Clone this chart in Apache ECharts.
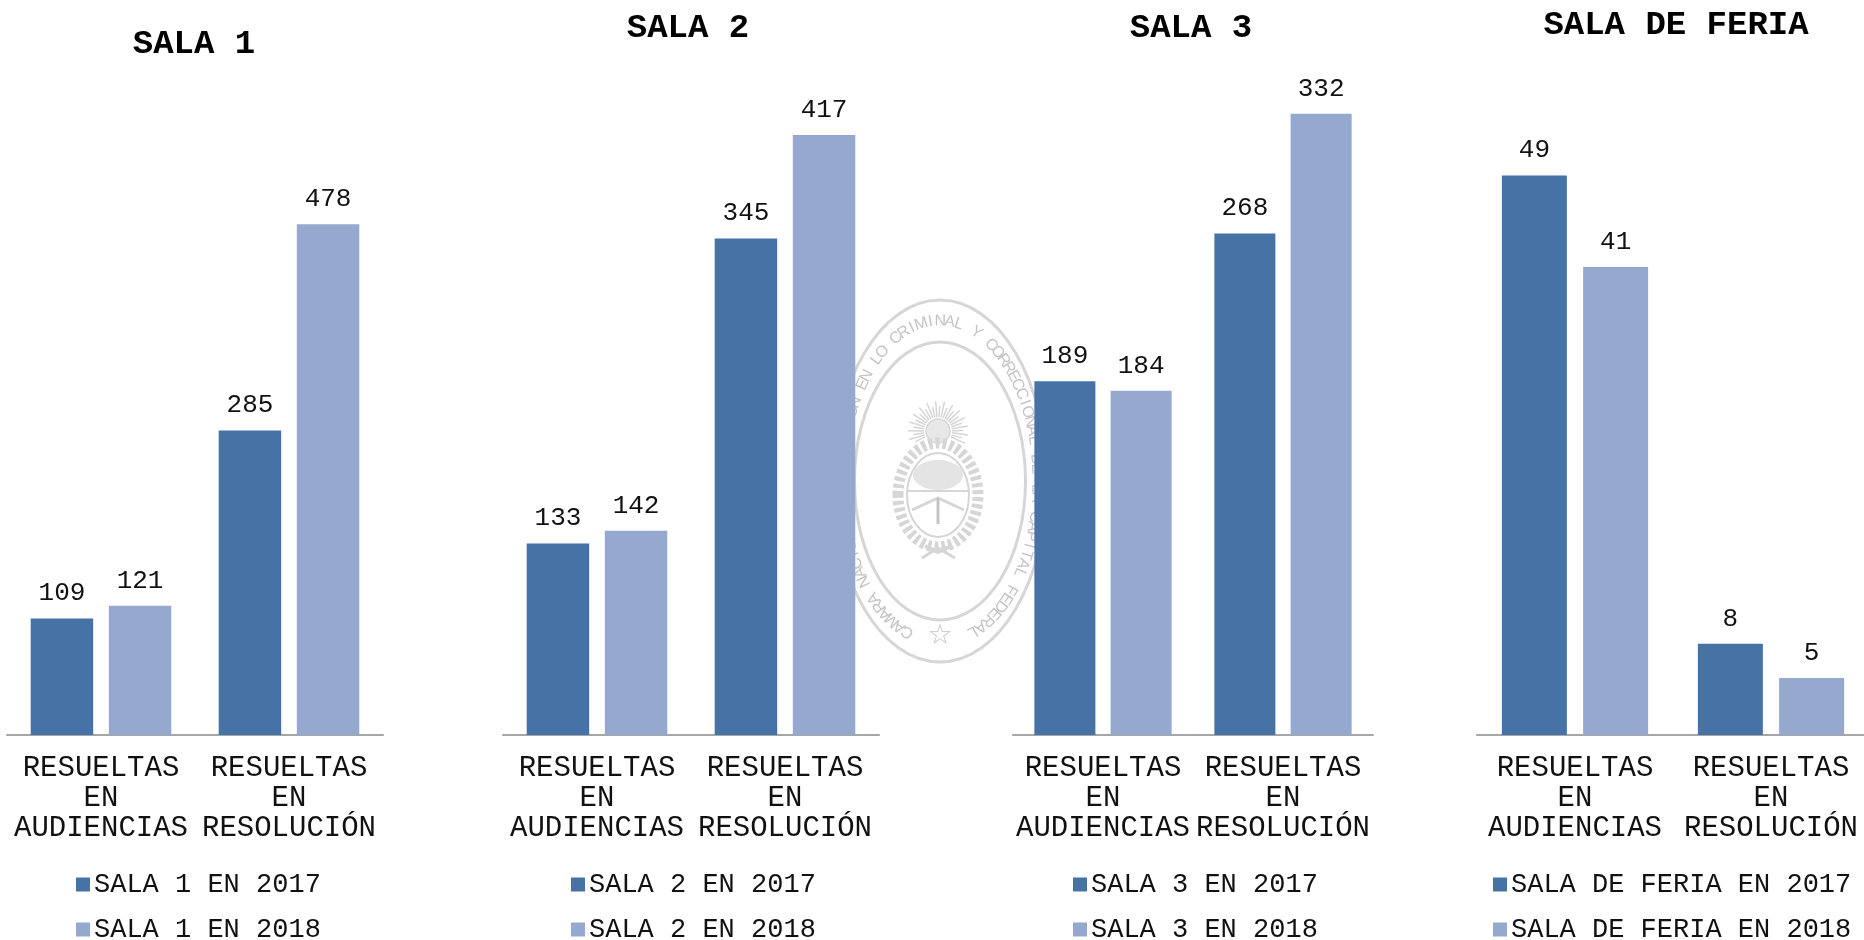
<!DOCTYPE html>
<html><head><meta charset="utf-8">
<style>html,body{margin:0;padding:0;background:#fff}#c{width:1864px;height:940px}</style>
<script src="https://cdn.jsdelivr.net/npm/echarts@6/dist/echarts.min.js"></script>
</head><body><div id="c"></div>
<script>
const categoriesAudiencia = 'RESUELTAS\nEN\nAUDIENCIAS';
const categoriesResolucion = 'RESUELTAS\nEN\nRESOLUCIÓN';
const categories = [categoriesAudiencia, categoriesResolucion];
const titles = ['SALA 1', 'SALA 2', 'SALA 3', 'SALA DE FERIA'];
const values2017 = [[109, 285], [133, 345], [189, 268], [49, 8]];
const values2018 = [[121, 478], [142, 417], [184, 332], [41, 5]];
const axisMax = [641, 476, 366, 60];
const sealText = 'CAMARA NACIONAL DE CASACION EN LO CRIMINAL Y CORRECCIONAL DE LA CAPITAL FEDERAL';

const FONT = '"Liberation Mono"';
const DARK = '#4672a6', LIGHT = '#95a9cf', SEAL = '#d6d6d6';
const layout = [
  {left: 7, width: 376, bar: 62.5, titleX: 194, titleY: 44, legendX: 76},
  {left: 503, width: 376, bar: 62.5, titleX: 688, titleY: 28, legendX: 571},
  {left: 1013, width: 360, bar: 61, titleX: 1191, titleY: 28, legendX: 1073},
  {left: 1477, width: 392, bar: 65, titleX: 1676, titleY: 25, legendX: 1493}
];

const grid = [], xAxis = [], yAxis = [], series = [], legend = [], graphic = [];
layout.forEach((l, i) => {
  grid.push({left: l.left, width: l.width, top: 50, height: 685, containLabel: false, outerBoundsMode: 'none'});
  xAxis.push({type: 'category', gridIndex: i, data: categories,
    axisLine: {lineStyle: {color: '#a6a6a6', width: 2}}, axisTick: {show: false},
    axisLabel: {interval: 0, color: '#111', fontFamily: FONT, fontSize: 29, lineHeight: 30, margin: 18}});
  yAxis.push({type: 'value', gridIndex: i, min: 0, max: axisMax[i], show: false});
  const n17 = titles[i] + ' EN 2017', n18 = titles[i] + ' EN 2018';
  const lab = {show: true, position: 'top', distance: 12, color: '#111', fontFamily: FONT, fontSize: 26};
  series.push({type: 'bar', name: n17, xAxisIndex: i, yAxisIndex: i, data: values2017[i], barWidth: l.bar, barGap: '25%', itemStyle: {color: DARK}, label: lab, silent: true, z: 5});
  series.push({type: 'bar', name: n18, xAxisIndex: i, yAxisIndex: i, data: values2018[i], barWidth: l.bar, barGap: '25%', itemStyle: {color: LIGHT}, label: lab, silent: true, z: 5});
  legend.push({data: [n17, n18], orient: 'vertical', left: l.legendX, top: 871, height: 120, itemWidth: 14, itemHeight: 14, itemGap: 18,
    icon: 'rect', selectedMode: false, padding: 0,
    textStyle: {color: '#111', fontFamily: FONT, fontSize: 27, lineHeight: 27, padding: [0, 0, 0, -1]}});
  graphic.push({type: 'text', x: l.titleX, y: l.titleY, z: 10,
    style: {text: titles[i], fill: '#000', font: 'bold 34px ' + FONT, textAlign: 'center', textVerticalAlign: 'middle'}});
});

/* Watermark seal behind the bars */
const cx = 940, cy = 481;
const stroke = (w) => ({fill: 'none', stroke: SEAL, lineWidth: w});
const ell = (x, y, rx, ry, w, extra) => ({type: 'ellipse', z: -5, shape: {cx: x, cy: y, rx, ry}, style: Object.assign(stroke(w), extra || {})});
graphic.push(ell(cx, cy, 107, 181, 3), ell(cx, cy, 85.5, 139, 3));
(function () {
  const rx = 97, ry = 160, N = 3000, table = [0];
  const P = t => [cx - rx * Math.sin(t), cy + ry * Math.cos(t)];
  for (let k = 1; k <= N; k++) {
    const a = P((k - 1) / N * 2 * Math.PI), b = P(k / N * 2 * Math.PI);
    table.push(table[k - 1] + Math.hypot(b[0] - a[0], b[1] - a[1]));
  }
  const total = table[N], start = 34, step = (total - 2 * start) / (sealText.length - 1);
  let k = 0;
  [...sealText].forEach((ch, i) => {
    const s = start + i * step;
    while (table[k] < s) k++;
    const t = k / N * 2 * Math.PI, p = P(t);
    const nx = (p[0] - cx) / (rx * rx), ny = (p[1] - cy) / (ry * ry);
    graphic.push({type: 'text', z: -5, x: p[0], y: p[1], rotation: Math.atan2(-nx, -ny),
      style: {text: ch, fill: '#c4c4c4', font: '16px "Liberation Sans"', textAlign: 'center', textVerticalAlign: 'middle'}});
  });
})();
graphic.push({type: 'text', z: -5, x: cx, y: 637, style: {text: '☆', fill: '#c4c4c4', font: '28px "DejaVu Sans"', textAlign: 'center', textVerticalAlign: 'middle'}});
/* Emblem: sun, wreath, shield */
for (let a = -115; a <= 115; a += 8.5) {
  const r = a * Math.PI / 180, len = (Math.round(a / 8.5) % 2) ? 30 : 25;
  graphic.push({type: 'line', z: -5, shape: {x1: 938 + 14 * Math.sin(r), y1: 431 - 14 * Math.cos(r), x2: 938 + len * Math.sin(r), y2: 431 - len * Math.cos(r)}, style: {stroke: SEAL, lineWidth: 1.5}});
}
graphic.push({type: 'circle', z: -5, shape: {cx: 938, cy: 431, r: 12}, style: {fill: '#e8e8e8', stroke: SEAL, lineWidth: 1.5}});
graphic.push(ell(938, 495, 40, 52, 11, {lineDash: [4, 3]}));
graphic.push(ell(938, 495, 31, 42, 2));
graphic.push({type: 'ellipse', z: -5, shape: {cx: 938, cy: 475, rx: 25, ry: 15}, style: {fill: '#e4e4e4'}});
graphic.push({type: 'line', z: -5, shape: {x1: 908, y1: 491, x2: 968, y2: 491}, style: {stroke: SEAL, lineWidth: 2}});
graphic.push({type: 'polyline', z: -5, shape: {points: [[912, 510], [938, 498], [964, 510]]}, style: {fill: 'none', stroke: SEAL, lineWidth: 3}});
graphic.push({type: 'line', z: -5, shape: {x1: 938, y1: 498, x2: 938, y2: 524}, style: {stroke: '#c4c4c4', lineWidth: 3}});
graphic.push({type: 'polyline', z: -5, shape: {points: [[922, 558], [938, 548], [955, 558]]}, style: {fill: 'none', stroke: SEAL, lineWidth: 3}});
graphic.push({type: 'polyline', z: -5, shape: {points: [[925, 546], [938, 552], [951, 546]]}, style: {fill: 'none', stroke: SEAL, lineWidth: 4}});

const chart = echarts.init(document.getElementById('c'), null, {renderer: 'canvas'});
chart.setOption({animation: false, backgroundColor: '#fff', grid, xAxis, yAxis, series, legend, graphic});
</script></body></html>
